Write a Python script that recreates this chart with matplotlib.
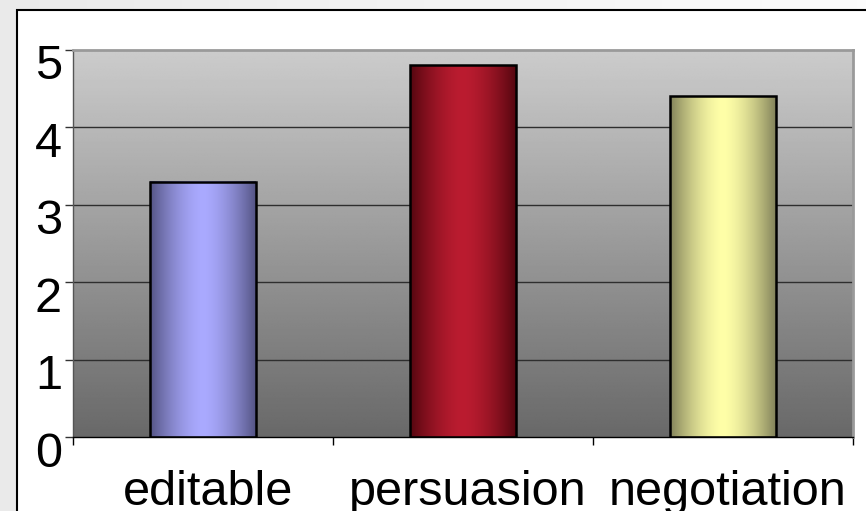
import numpy as np
import matplotlib
matplotlib.use("Agg")
import matplotlib.pyplot as plt
from matplotlib.patches import Rectangle
from matplotlib.colors import to_rgb
from matplotlib.transforms import ScaledTranslation

# Data
categories = ["editable", "persuasion", "negotiation"]
values = [3.3, 4.8, 4.4]
yticks = [0, 1, 2, 3, 4, 5]

# Bar shading: (edge colour, centre colour)
bar_shades = [
    ("#545484", "#aaaaff"),
    ("#55060f", "#bb1c30"),
    ("#82825a", "#ffffa8"),
]

plt.rcParams["font.family"] = ["Liberation Sans", "DejaVu Sans"]

W, H, DPI = 866, 511, 100
fig = plt.figure(figsize=(W / DPI, H / DPI), dpi=DPI)

# Figure background: soft light-grey wash
bg = fig.add_axes([0, 0, 1, 1], zorder=-10)
gx = np.linspace(0, 1, 200)
wash = 0.915 + 0.07 * gx
bg.imshow(np.tile(wash, (10, 1)), cmap="gray", vmin=0, vmax=1,
          extent=[0, 1, 0, 1], aspect="auto")
bg.set_axis_off()

# White chart panel with black frame
panel = Rectangle((17 / W, -0.1), 1.2, (H - 10) / H + 0.1,
                  transform=fig.transFigure, facecolor="white",
                  edgecolor="black", linewidth=1.5, zorder=-5)
fig.patches.append(panel)

ax = fig.add_axes([73 / W, 74 / H, 780 / W, 387 / H])
x = np.arange(len(categories))
ax.set_xlim(-0.5, len(categories) - 0.5)
ax.set_ylim(0, 5)

# Plot-area gradient: light grey at top to dark grey at bottom
gy = np.linspace(0.41, 0.80, 256)[:, None]
ax.imshow(np.repeat(gy, 4, axis=1), cmap="gray", vmin=0, vmax=1,
          extent=[-0.5, len(categories) - 0.5, 0, 5], origin="lower",
          aspect="auto", zorder=0, interpolation="bilinear")

# Gridlines
for yv in yticks[1:-1]:
    ax.axhline(yv, color="#2e2e2e", linewidth=1.0, zorder=1)

# Bars with horizontal cylinder-like shading
bw = 0.405
bars = ax.bar(x, values, width=bw, facecolor="none", edgecolor="black",
              linewidth=1.8, zorder=4)
t = np.linspace(0, 1, 256)
prof = 1 - np.abs(2 * t - 1) ** 1.6
for rect, (c_edge, c_mid) in zip(bars, bar_shades):
    e = np.array(to_rgb(c_edge))
    m = np.array(to_rgb(c_mid))
    img = e[None, :] + (m - e)[None, :] * prof[:, None]
    img = img[None, :, :]
    x0 = rect.get_x()
    ax.imshow(img, extent=[x0, x0 + rect.get_width(), 0, rect.get_height()],
              aspect="auto", zorder=3, interpolation="bilinear")
ax.set_xlim(-0.5, len(categories) - 0.5)
ax.set_ylim(0, 5)

# Spines
ax.spines["top"].set_color("#9a9a9a")
ax.spines["top"].set_linewidth(2)
ax.spines["right"].set_color("#9a9a9a")
ax.spines["right"].set_linewidth(2)
ax.spines["left"].set_color("#555555")
ax.spines["left"].set_linewidth(1)
ax.spines["bottom"].set_color("black")
ax.spines["bottom"].set_linewidth(1)
for s in ax.spines.values():
    s.set_zorder(5)

# Y axis
ax.set_yticks(yticks)
ax.set_yticklabels([str(v) for v in yticks], fontsize=35)
ax.tick_params(axis="y", direction="out", length=6, width=1,
               color="#333333", pad=2)
yshift = ScaledTranslation(0, -12 / DPI, fig.dpi_scale_trans)
for lab in ax.get_yticklabels():
    lab.set_transform(lab.get_transform() + yshift)

# X axis: boundary ticks, category labels centred under the bars
ax.set_xticks(np.arange(len(categories) + 1) - 0.5)
ax.set_xticklabels([])
ax.tick_params(axis="x", which="major", direction="out", length=6,
               width=1, color="black")
ax.set_xticks(x, minor=True)
ax.set_xticklabels(categories, minor=True, fontsize=35)
ax.tick_params(axis="x", which="minor", length=0, pad=23.5)
xshift = ScaledTranslation(5 / DPI, 0, fig.dpi_scale_trans)
for lab in ax.get_xticklabels(minor=True):
    lab.set_transform(lab.get_transform() + xshift)

fig.savefig("out.png", dpi=DPI)
